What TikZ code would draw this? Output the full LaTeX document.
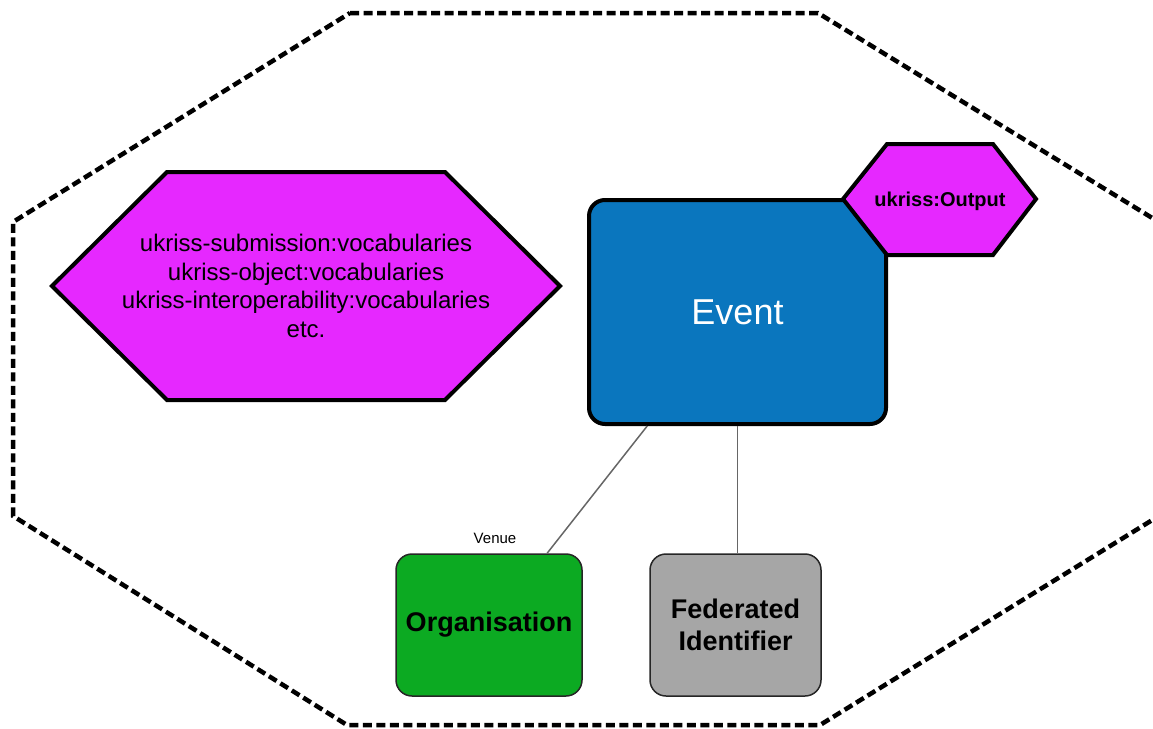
\documentclass[tikz,border=0pt]{standalone}
\usepackage{fontspec}
\setmainfont{Liberation Sans}
\usetikzlibrary{calc}
\definecolor{hexmag}{RGB}{230,40,255}
\definecolor{evblue}{RGB}{10,118,190}
\definecolor{orggreen}{RGB}{12,170,34}
\definecolor{fedgray}{RGB}{166,166,166}
\begin{document}
\begin{tikzpicture}[x=1pt,y=-1pt,
  hexbox/.style={fill=hexmag,draw=black,line width=4pt,line join=miter},
  entity/.style={draw=black,rounded corners=16pt,inner sep=0pt,align=center},
  link/.style={draw=black!60,line width=1.5pt},
]
\useasboundingbox (0,0) rectangle (1153,728);

% dashed boundary of the namespace
\begin{scope}
  \clip (0,0) rectangle (1153,728);
  \draw[line width=4.5pt,dash pattern=on 9pt off 4.5pt]
    (350,13) -- (818,13) -- (1162,224) -- (1162,514) -- (820,725)
    -- (347,725) -- (13,516) -- (13,222) -- cycle;
\end{scope}

% vocabularies
\draw[hexbox] (52,286) -- (167,172) -- (445,172) -- (560,286) -- (445,400) -- (167,400) -- cycle;
\node[font=\fontsize{24}{28.8}\selectfont, align=center] (vocab) at (306,286)
  {ukriss-submission:vocabularies\\ukriss-object:vocabularies\\ukriss-interoperability:vocabularies\\etc.};

% entities
\node[entity, fill=evblue, line width=4pt, minimum width=297pt, minimum height=224pt,
      text=white, font=\fontsize{36}{43}\selectfont] (ev) at (737.5,312) {Event};

\node[entity, fill=orggreen, line width=1.5pt, draw=black!85, minimum width=186pt, minimum height=142pt,
      font=\bfseries\fontsize{27}{32}\selectfont] (org) at (489,625) {\raisebox{-3pt}{Organisation}};
\node[entity, fill=fedgray, line width=1.5pt, draw=black!85, minimum width=171pt, minimum height=142pt,
      font=\bfseries\fontsize{27}{32}\selectfont] (fed) at (735.5,625) {Federated\\Identifier};

% connectors
\draw[link] ($(ev.south west)!0.2!(ev.south east)$) -- ($(org.north west)!0.81!(org.north east)$);
\draw[link] (ev.south) -- (ev.south |- fed.north);
\node[font=\fontsize{15}{18}\selectfont] (venue) at (495,538) {Venue};

% output type badge
\draw[hexbox] (843,199) -- (887,144) -- (993,144) -- (1036,199) -- (993,255) -- (887,255) -- cycle;
\node[font=\bfseries\fontsize{20}{24}\selectfont] (out) at (940,201) {ukriss:Output};
\end{tikzpicture}
\end{document}
